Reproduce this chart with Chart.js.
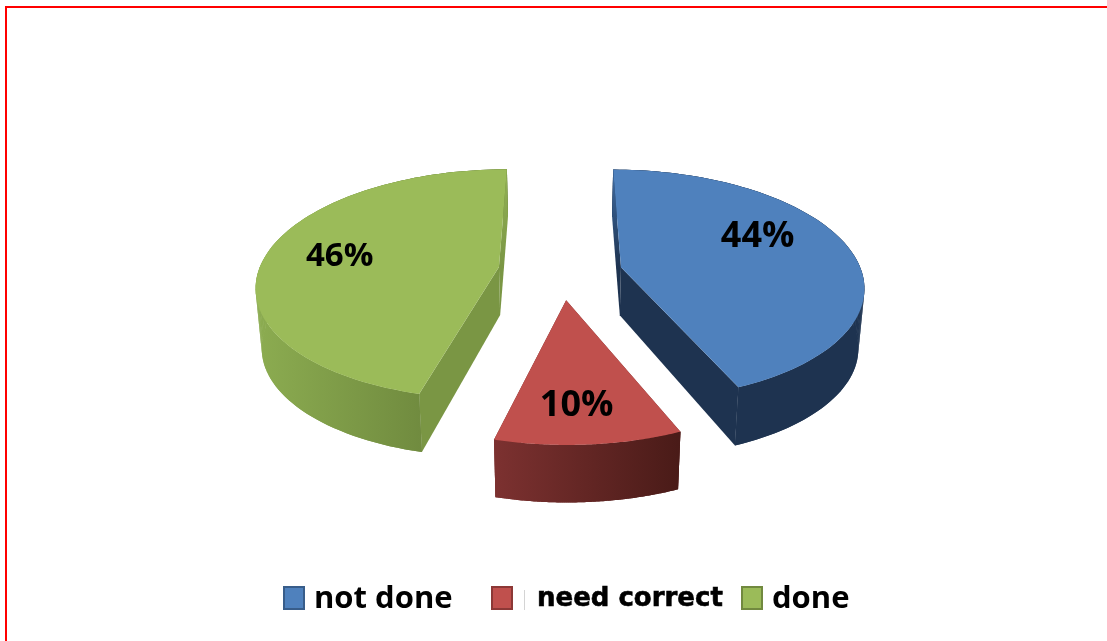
<!DOCTYPE html>
<html>
<head>
<meta charset="utf-8">
<style>
html,body{margin:0;padding:0;background:#fff;overflow:hidden}
#wrap{position:relative;width:1107px;height:641px}
#frame{position:absolute;left:5px;top:6px;right:0;bottom:0;border-left:2px solid #f00;border-top:2px solid #f00;pointer-events:none}
canvas{position:absolute;left:0;top:0}
</style>
<script src="https://cdn.jsdelivr.net/npm/chart.js@4/dist/chart.umd.js"></script>
</head>
<body>
<div id="wrap"><canvas id="c" width="1107" height="641"></canvas><div id="frame"></div></div>
<script>
const categories = ['not done', 'need correct', 'done'];
const values = [44, 10, 46];
const topColors = ['#4f81bd', '#c0504d', '#9bbb59'];
const edgeColors = ['#385d8a', '#8c3836', '#71893f'];
const wallLeft = ['#1e3350', '#7c3130', '#8bab50'];
const wallRight = ['#1e3350', '#4a1b18', '#627a36'];
const cutColors = ['#1e3350', '#6f2b2a', '#7a9644'];
const cutFar = ['#3f6ca3', '#6f2b2a', '#93b255'];
const labelRadius = [0.67, 0.76, 0.685];
const labelTurn = [-14.4, 1, 0.5];
const labelSize = [36, 36, 33];
const sliceShiftU = [-0.008, 0.006, 0.006];
const sliceShiftV = [0, -0.035, -0.02];
const startTurn = [0, -1.3, 0];
const endTurn = [-1.3, 0, 0];

const view = {sx: 241, sy: 114, k: 0.15, apexDepth: 48, sideDepth: 60, farFall: 12, nearFall: 2, shrink: 0.98};
const legendStyle = [
  {box: 283, text: 314, base: 608, font: 'bold 31px "Open Sans"', heavy: 0},
  {box: 491, text: 537, base: 606, font: 'bold 26px "DejaVu Sans"', heavy: 0.6},
  {box: 741, text: 772, base: 608, font: 'bold 31px "Open Sans"', heavy: 0}
];

const pie3d = {
  id: 'pie3d',
  beforeDatasetsDraw(chart) {
    const ctx = chart.ctx;
    const arcs = chart.getDatasetMeta(0).data;
    arcs.forEach((el, i) => {
      const R = el.outerRadius;
      const mid = (el.startAngle + el.endAngle) / 2;
      const o = el.options.offset / R;
      const ou = Math.cos(mid) * o + sliceShiftU[i];
      const ov = Math.sin(mid) * o + sliceShiftV[i];
      const a0 = el.startAngle + startTurn[i] * Math.PI / 180;
      const a1 = el.endAngle + endTurn[i] * Math.PI / 180;
      const pt = (u, v, drop) => {
        const w = 1 - view.k * v;
        return {
          x: el.x + view.sx * u / w * (drop ? view.shrink : 1),
          y: el.y + view.sy * v / w + drop
        };
      };
      const rimDrop = v => v < 0 ? view.sideDepth + view.farFall * v : view.sideDepth - view.nearFall * v;
      const arcPts = low => {
        const out = [];
        for (let s = 0; s <= 90; s++) {
          const a = a0 + (a1 - a0) * s / 90;
          const u = ou + Math.cos(a), v = ov + Math.sin(a);
          out.push(pt(u, v, low ? rimDrop(v) : 0));
        }
        return out;
      };
      const fill = (pts, style) => {
        ctx.beginPath();
        pts.forEach((p, n) => n ? ctx.lineTo(p.x, p.y) : ctx.moveTo(p.x, p.y));
        ctx.closePath();
        ctx.fillStyle = style;
        ctx.fill();
      };
      const upper = arcPts(false), lower = arcPts(true);
      const apexT = pt(ou, ov, 0), apexB = pt(ou, ov, view.apexDepth);
      const cuts = [[upper[0], lower[0]], [upper[90], lower[90]]];

      cuts.filter(c => c[0].y >= apexT.y).forEach(([t, b]) => fill([apexT, t, b, apexB], cutColors[i]));

      const xs = lower.map(p => p.x);
      const left = Math.min(...xs), right = Math.max(...xs);
      const g2 = ctx.createLinearGradient(left, 0, right, 0);
      g2.addColorStop(0, wallLeft[i]);
      g2.addColorStop(1, wallRight[i]);
      fill(upper.concat(lower.slice().reverse()), g2);
      for (let s = 0; s < 90; s++) {
        fill([upper[s], upper[s + 1], lower[s + 1], lower[s]], g2);
      }

      cuts.filter(c => c[0].y < apexT.y).forEach(([t, b]) => {
        const g = ctx.createLinearGradient(0, t.y, 0, apexT.y);
        g.addColorStop(0, cutFar[i]);
        g.addColorStop(1, cutColors[i]);
        fill([apexT, t, b, apexB], g);
      });

      fill([apexT].concat(upper), topColors[i]);

      const a = mid + labelTurn[i] * Math.PI / 180;
      const lp = pt(ou + Math.cos(a) * labelRadius[i], ov + Math.sin(a) * labelRadius[i], 0);
      ctx.fillStyle = '#000';
      ctx.font = 'bold ' + labelSize[i] + 'px "Open Sans"';
      ctx.textAlign = 'center';
      ctx.textBaseline = 'middle';
      ctx.fillText(values[i] + '%', lp.x, lp.y);
    });

    ctx.textAlign = 'left';
    ctx.textBaseline = 'alphabetic';
    categories.forEach((name, i) => {
      const st = legendStyle[i];
      ctx.fillStyle = topColors[i];
      ctx.strokeStyle = edgeColors[i];
      ctx.lineWidth = 2;
      ctx.fillRect(st.box + 1, 587, 20, 22);
      ctx.strokeRect(st.box + 1, 587, 20, 22);
      ctx.fillStyle = '#000';
      ctx.font = st.font;
      ctx.fillText(name, st.text, st.base);
      if (st.heavy) {
        ctx.strokeStyle = '#000';
        ctx.lineWidth = st.heavy;
        ctx.strokeText(name, st.text, st.base);
      }
    });
    ctx.fillStyle = '#d4d4d4';
    ctx.fillRect(524, 590, 1, 20);
    return false;
  }
};

new Chart(document.getElementById('c'), {
  type: 'pie',
  data: {
    labels: categories,
    datasets: [{data: values, backgroundColor: topColors, borderWidth: 0, offset: 64}]
  },
  options: {
    responsive: false,
    animation: false,
    rotation: 0,
    layout: {padding: {left: 14, top: 0, bottom: 95, right: 0}},
    plugins: {legend: {display: false}, tooltip: {enabled: false}, title: {display: false}}
  },
  plugins: [pie3d]
});
</script>
</body>
</html>
